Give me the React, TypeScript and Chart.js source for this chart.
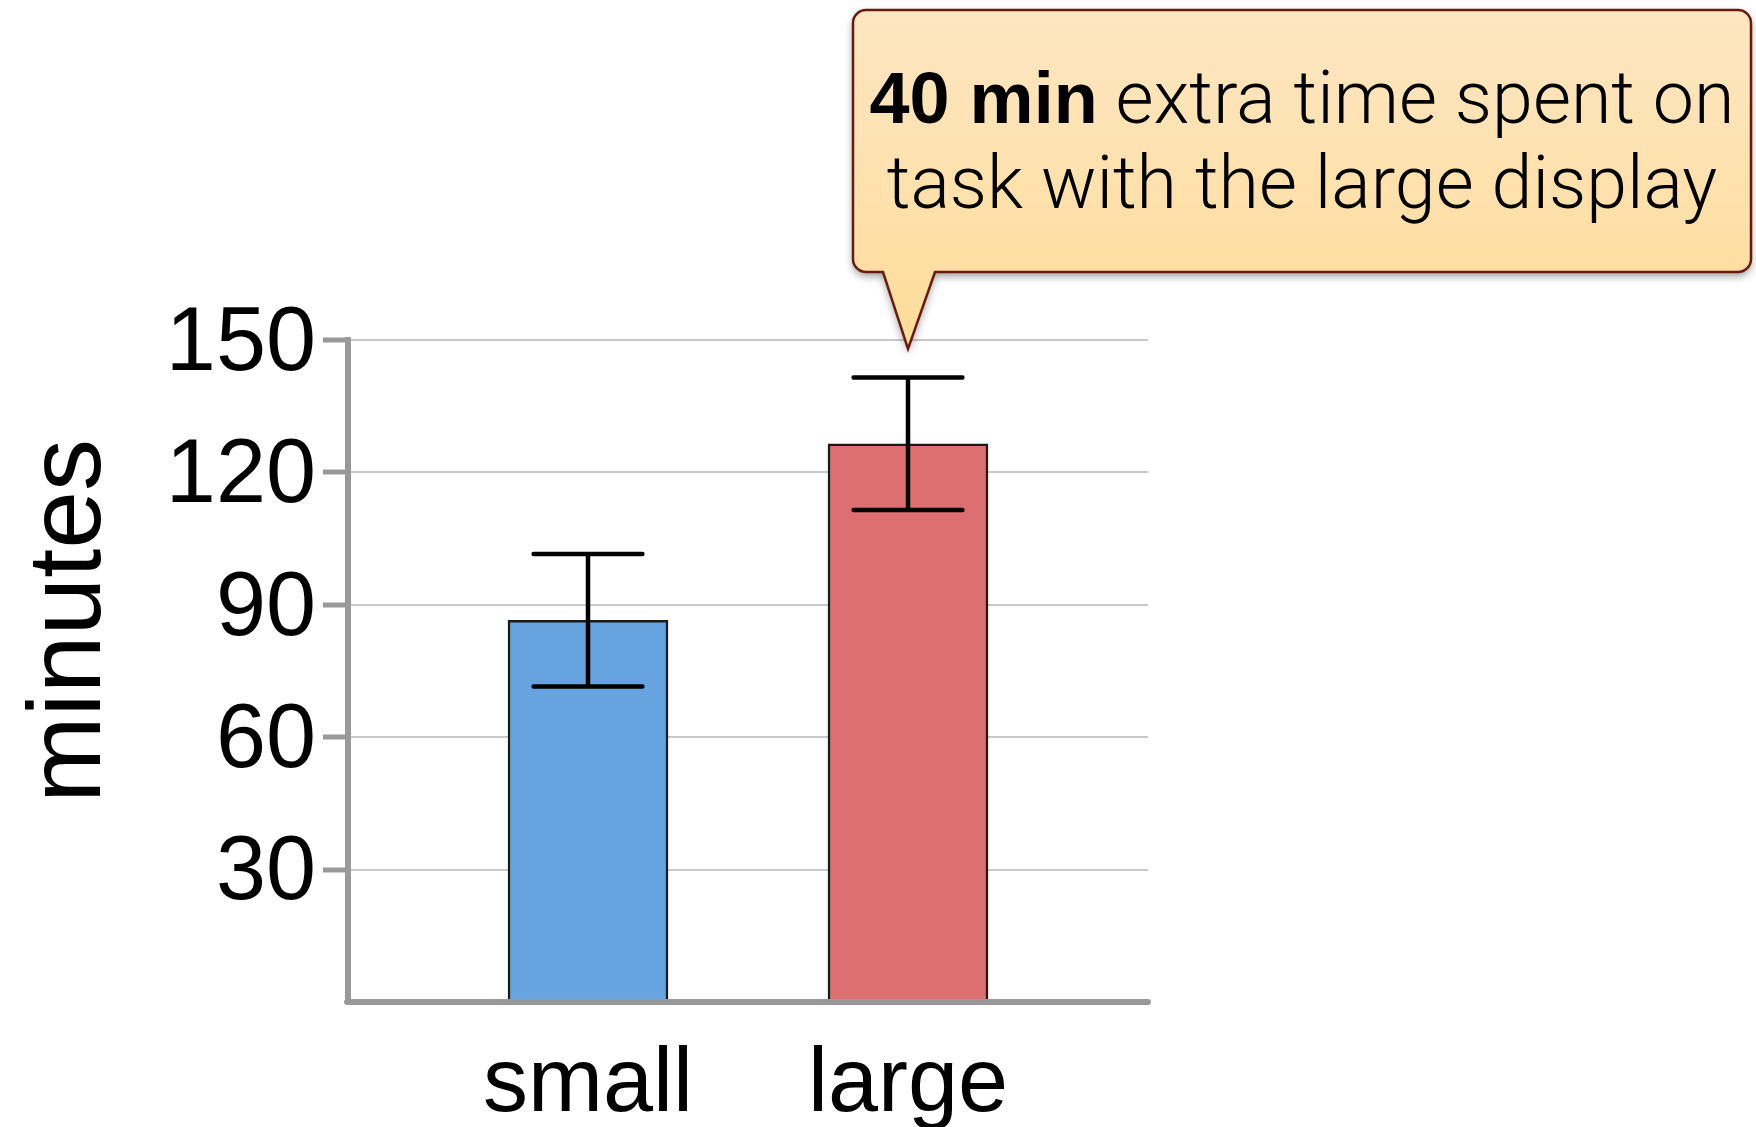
import { useEffect, useRef } from 'react';
import { Chart, registerables } from 'chart.js';

Chart.register(...registerables);

const categories = ['small', 'large'];
const meanMinutes = [86.5, 126.5];
const errorMinutes = [15, 15];
const barColors = ['#67a3df', '#de6f70'];
const yTickValues = [0, 30, 60, 90, 120, 150];
const yTitle = 'minutes';
const calloutBold = '40 min';
const calloutRest = ' extra time spent on';
const calloutLine2 = 'task with the large display';
const calloutTarget = { category: 1, value: 148 };

const AXIS_GRAY = '#999999';
const SANS = "'Liberation Sans', Arial, sans-serif";

const errorBarPlugin = {
  id: 'errorBars',
  afterDatasetsDraw(chart: any) {
    const { ctx, chartArea } = chart;
    const xs = chart.scales.x;
    const ys = chart.scales.y;
    // redraw x axis line above bars
    ctx.save();
    ctx.strokeStyle = AXIS_GRAY;
    ctx.lineWidth = 6;
    ctx.lineCap = 'round';
    ctx.beginPath();
    ctx.moveTo(chartArea.left - 1, chartArea.bottom);
    ctx.lineTo(chartArea.right, chartArea.bottom);
    ctx.stroke();
    ctx.restore();

    ctx.save();
    ctx.strokeStyle = '#000';
    ctx.lineWidth = 4.5;
    ctx.lineCap = 'round';
    categories.forEach((_, i) => {
      const cx = xs.getPixelForValue(i);
      const half = xs.getPixelForValue(i + 0.17) - cx;
      const top = ys.getPixelForValue(meanMinutes[i] + errorMinutes[i]);
      const bot = ys.getPixelForValue(meanMinutes[i] - errorMinutes[i]);
      ctx.beginPath();
      ctx.moveTo(cx, top);
      ctx.lineTo(cx, bot);
      ctx.moveTo(cx - half, top);
      ctx.lineTo(cx + half, top);
      ctx.moveTo(cx - half, bot);
      ctx.lineTo(cx + half, bot);
      ctx.stroke();
    });
    ctx.restore();
  },
};

const titlePlugin = {
  id: 'yTitle',
  afterDraw(chart: any) {
    const { ctx } = chart;
    ctx.save();
    ctx.translate(100, 621);
    ctx.rotate(-Math.PI / 2);
    ctx.font = `104px ${SANS}`;
    ctx.fillStyle = '#000';
    ctx.textAlign = 'center';
    ctx.textBaseline = 'alphabetic';
    ctx.fillText(yTitle, 0, 0);
    ctx.restore();
  },
};

const calloutPlugin = {
  id: 'callout',
  afterDraw(chart: any) {
    const { ctx } = chart;
    const xs = chart.scales.x;
    const ys = chart.scales.y;
    const tipX = xs.getPixelForValue(calloutTarget.category);
    const tipY = ys.getPixelForValue(calloutTarget.value);
    const L = 853, R = 1751, T = 10, B = 272, r = 13;
    const pL = tipX - 25, pR = tipX + 27;

    const path = () => {
      ctx.beginPath();
      ctx.moveTo(L + r, T);
      ctx.lineTo(R - r, T);
      ctx.arcTo(R, T, R, T + r, r);
      ctx.lineTo(R, B - r);
      ctx.arcTo(R, B, R - r, B, r);
      ctx.lineTo(pR, B);
      ctx.lineTo(tipX, tipY);
      ctx.lineTo(pL, B);
      ctx.lineTo(L + r, B);
      ctx.arcTo(L, B, L, B - r, r);
      ctx.lineTo(L, T + r);
      ctx.arcTo(L, T, L + r, T, r);
      ctx.closePath();
    };

    ctx.save();
    const grad = ctx.createLinearGradient(0, T, 0, tipY);
    grad.addColorStop(0, '#fde6c2');
    grad.addColorStop(1, '#fedc98');
    ctx.shadowColor = 'rgba(0,0,0,0.4)';
    ctx.shadowBlur = 8;
    ctx.shadowOffsetX = 0;
    ctx.shadowOffsetY = 4;
    path();
    ctx.fillStyle = grad;
    ctx.fill();
    ctx.shadowColor = 'transparent';
    ctx.lineWidth = 2.5;
    ctx.strokeStyle = '#6b1a10';
    ctx.lineJoin = 'miter';
    ctx.stroke();

    // text
    const cx = (L + R) / 2;
    const size = 73.5;
    const boldFont = `bold 72px ${SANS}`;
    const lightFont = `300 ${size}px Roboto, ${SANS}`;
    ctx.fillStyle = '#000';
    ctx.textBaseline = 'alphabetic';
    ctx.textAlign = 'left';
    ctx.font = boldFont;
    const wb = ctx.measureText(calloutBold).width;
    ctx.font = lightFont;
    const wr = ctx.measureText(calloutRest).width;
    const x0 = cx - (wb + wr) / 2;
    ctx.font = boldFont;
    ctx.fillText(calloutBold, x0, 123);
    ctx.font = lightFont;
    ctx.fillText(calloutRest, x0 + wb, 123);
    ctx.textAlign = 'center';
    ctx.fillText(calloutLine2, cx, 208);
    ctx.restore();
  },
};

export default function App() {
  const canvasRef = useRef<HTMLCanvasElement | null>(null);

  useEffect(() => {
    const canvas = canvasRef.current;
    if (!canvas) return;
    const chart = new Chart(canvas, {
      type: 'bar',
      data: {
        datasets: [
          {
            data: categories.map((_, i) => ({ x: i, y: meanMinutes[i] })),
            backgroundColor: barColors,
            borderColor: '#1a1a1a',
            borderWidth: 2.5,
            barThickness: 160,
          },
        ],
      },
      options: {
        responsive: false,
        animation: false,
        devicePixelRatio: 1,
        layout: { padding: { left: 0, top: 340, right: 608, bottom: 0 } },
        plugins: {
          legend: { display: false },
          tooltip: { enabled: false },
        },
        scales: {
          x: {
            type: 'linear',
            offset: false,
            min: -0.75,
            max: 1.75,
            afterBuildTicks: (s: any) => {
              s.ticks = categories.map((_, i) => ({ value: i }));
            },
            afterFit: (s: any) => {
              s.height = 125;
            },
            grid: { display: false, drawTicks: false, offset: false },
            border: { display: false },
            ticks: {
              autoSkip: false,
              maxRotation: 0,
              padding: 30,
              color: '#000',
              font: { family: SANS, size: 90 },
              callback: (v: any) => categories[v] ?? '',
            },
          },
          y: {
            min: 0,
            max: 150,
            afterBuildTicks: (s: any) => {
              s.ticks = yTickValues.map((v) => ({ value: v }));
            },
            afterFit: (s: any) => {
              s.width = 348;
            },
            grid: {
              color: (c: any) => (c.tick && c.tick.value === 0 ? 'rgba(0,0,0,0)' : '#c9c9c9'),
              lineWidth: 2,
              drawTicks: true,
              tickLength: 25,
              tickWidth: 5,
              tickColor: (c: any) => (c.tick && c.tick.value === 0 ? 'rgba(0,0,0,0)' : AXIS_GRAY),
            },
            border: { display: true, color: AXIS_GRAY, width: 6 },
            ticks: {
              padding: 7,
              labelOffset: 5,
              color: '#000',
              font: { family: SANS, size: 90 },
              callback: (v: any) => (v === 0 ? '' : String(v)),
            },
          },
        },
      },
      plugins: [errorBarPlugin, titlePlugin, calloutPlugin],
    } as any);
    return () => chart.destroy();
  }, []);

  return (
    <div style={{ position: 'absolute', left: 0, top: 0, width: 1756, height: 1127, background: '#fff' }}>
      <canvas ref={canvasRef} width={1756} height={1127} style={{ display: 'block' }} />
    </div>
  );
}
